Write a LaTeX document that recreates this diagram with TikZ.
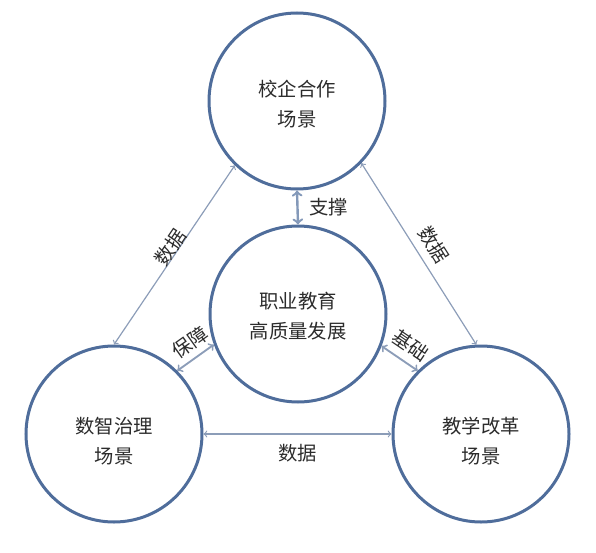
\documentclass[tikz,border=0pt]{standalone}
\usepackage{fontspec}
\newfontfamily\cjk{Noto Sans CJK SC}
\usepackage{xcolor}
\definecolor{ring-blue}{HTML}{4F6D9B}
\definecolor{link-grey}{HTML}{8C9DB8}
\definecolor{ink}{HTML}{2B2B2B}

\begin{document}
\begin{tikzpicture}[x=0.75pt, y=-0.75pt,
    every node/.style={font=\cjk\fontsize{14.5}{22.5}\selectfont, text=ink},
    scene/.style={circle, draw=ring-blue, line width=2.25pt, minimum size=132pt, inner sep=0pt},
    caption/.style={align=center, inner sep=0pt},
    link/.style={<->, color=link-grey, line width=0.9pt},
    tag/.style={inner sep=1pt}]
    \useasboundingbox (0,0) rectangle (596,553);
    \node[scene] (coop) at (297,101) {};
    \node[scene] (core) at (298,314) {};
    \node[scene] (gov) at (114,434) {};
    \node[scene] (teach) at (481,434) {};
    \node[caption] (coop-text) at ([yshift=-2.25pt]coop.center) {校企合作\\场景};
    \node[caption] (core-text) at ([yshift=-1.5pt]core.center) {职业教育\\高质量发展};
    \node[caption] (gov-text) at ([yshift=-5.25pt]gov.center) {数智治理\\场景};
    \node[caption] (teach-text) at ([yshift=-5pt]teach.center) {教学改革\\场景};
    \draw[link, line width=1.8pt, color=ring-blue!70] (coop.270) -- (core.90) node[midway, right=7pt, tag] {支撑};
    \draw[link] (gov.90) -- (coop.226) node[pos=0.52, sloped, above=-2.25pt, tag] {数据};
    \draw[link] (coop.316) -- (teach.93) node[pos=0.5, sloped, above=5pt, tag] {数据};
    \draw[link, line width=1.4pt] (gov.45) -- (core.200) node[pos=0.6, sloped, above=3pt, tag] {保障};
    \draw[link, line width=1.4pt] (core.339) -- (teach.135) node[pos=0.53, sloped, above=4.5pt, tag] {基础};
    \draw[link] (gov.0) -- (teach.180) node[midway, below=6pt, tag] {数据};
  \end{tikzpicture}
\end{document}
